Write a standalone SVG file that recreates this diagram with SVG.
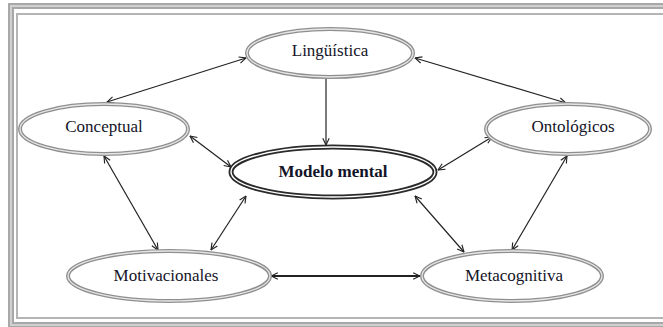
<svg xmlns="http://www.w3.org/2000/svg" width="663" height="327" viewBox="0 0 663 327">
<defs>
<marker id="ah" viewBox="0 0 10 10" refX="9.5" refY="5" markerWidth="8" markerHeight="8" markerUnits="userSpaceOnUse" orient="auto-start-reverse">
<path d="M1,1 L9.5,5 L1,9" fill="none" stroke="#222" stroke-width="1.4"/>
</marker>
<style>
.ell-o{fill:#fff;stroke:#8f8f8f;stroke-width:4}
.ell-i{fill:none;stroke:#e6e6e6;stroke-width:1.3}
.main-o{fill:#fff;stroke:#2a2a2a;stroke-width:5}
.main-i{fill:none;stroke:#fff;stroke-width:1.4}
.lbl{font-family:"Liberation Serif","Times New Roman",serif;font-size:17px;fill:#141428;text-anchor:middle}
.bold{font-weight:bold}
.con{stroke:#222;stroke-width:1.2;fill:none;marker-start:url(#ah);marker-end:url(#ah)}
</style>
</defs>
<rect x="0" y="0" width="663" height="327" fill="#fff"/>
<g id="frame">
<rect x="11" y="6" width="700" height="319" fill="none" stroke="#a8a8a8" stroke-width="6"/>
<rect x="11" y="6" width="700" height="319" fill="none" stroke="#d0d0d0" stroke-width="2"/>
<rect x="17" y="14" width="700" height="304" fill="none" stroke="#b5b5b5" stroke-width="2"/>
</g>
<g id="connectors">
<line class="con" x1="246" y1="58" x2="107" y2="102"/>
<line class="con" x1="415" y1="58" x2="566" y2="103"/>
<line x1="326" y1="79" x2="326" y2="145" stroke="#222" stroke-width="1.2" marker-end="url(#ah)"/>
<line class="con" x1="190" y1="136" x2="231" y2="167"/>
<line class="con" x1="492" y1="137" x2="438" y2="170"/>
<line class="con" x1="104" y1="156" x2="158" y2="250"/>
<line class="con" x1="246" y1="196" x2="211" y2="250"/>
<line class="con" x1="415" y1="196" x2="464" y2="252"/>
<line class="con" x1="567" y1="156" x2="512" y2="250"/>
<line class="con" x1="271" y1="276" x2="420" y2="276" style="stroke-width:2"/>
</g>
<g id="linguistica">
<ellipse class="ell-o" cx="330" cy="53" rx="83" ry="24"/>
<ellipse class="ell-i" cx="330" cy="53" rx="83" ry="24"/>
<text class="lbl" x="330" y="56">Lingüística</text>
</g>
<g id="conceptual">
<ellipse class="ell-o" cx="104" cy="129" rx="84" ry="25"/>
<ellipse class="ell-i" cx="104" cy="129" rx="84" ry="25"/>
<text class="lbl" x="104" y="132">Conceptual</text>
</g>
<g id="ontologicos">
<ellipse class="ell-o" cx="568" cy="129" rx="82" ry="25"/>
<ellipse class="ell-i" cx="568" cy="129" rx="82" ry="25"/>
<text class="lbl" x="573" y="132">Ontológicos</text>
</g>
<g id="modelo-mental">
<ellipse class="main-o" cx="333" cy="172" rx="102" ry="25"/>
<ellipse class="main-i" cx="333" cy="172" rx="102" ry="25"/>
<text class="lbl bold" x="333" y="177">Modelo mental</text>
</g>
<g id="motivacionales">
<ellipse class="ell-o" cx="169" cy="276" rx="101" ry="25"/>
<ellipse class="ell-i" cx="169" cy="276" rx="101" ry="25"/>
<text class="lbl" x="166" y="281">Motivacionales</text>
</g>
<g id="metacognitiva">
<ellipse class="ell-o" cx="512" cy="276" rx="90" ry="25"/>
<ellipse class="ell-i" cx="512" cy="276" rx="90" ry="25"/>
<text class="lbl" x="514" y="281">Metacognitiva</text>
</g>
</svg>
